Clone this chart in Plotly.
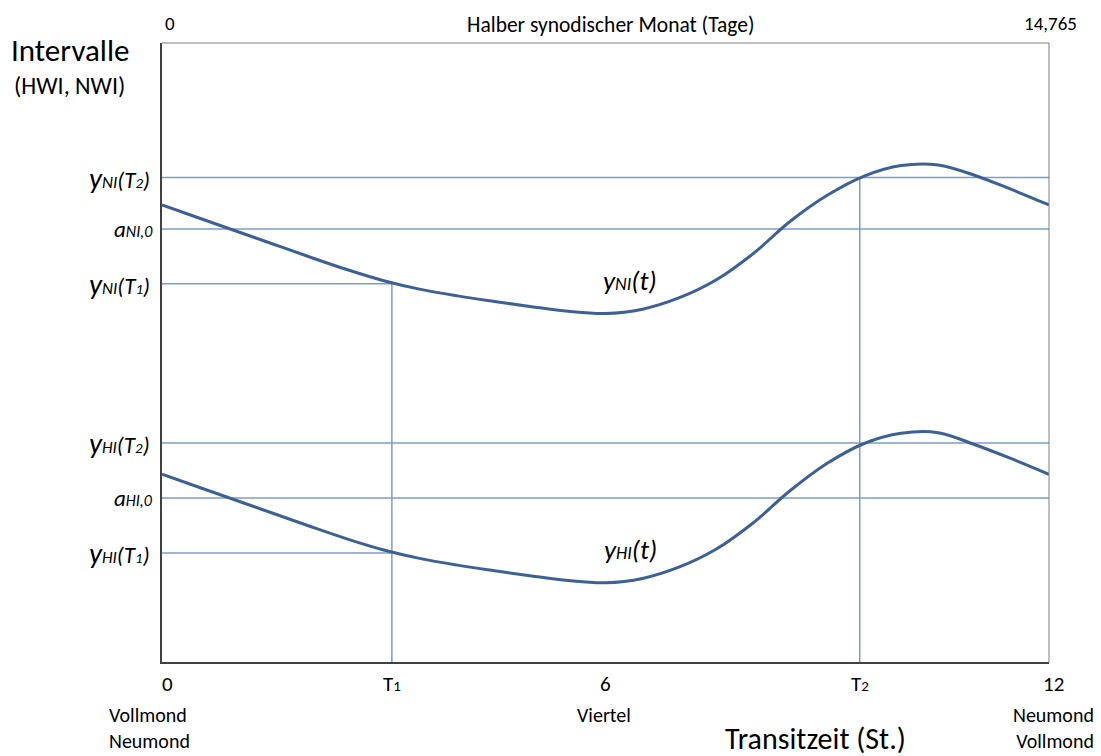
import plotly.graph_objects as go

# ---- data ----
t_hours = [0, 0.5, 1.0, 1.5, 2.0, 2.5, 3.0, 3.5, 4.0, 4.5, 5.0, 5.5, 6.0, 6.5, 7.0, 7.5,
           8.0, 8.5, 9.0, 9.5, 10.0, 10.5, 11.0, 11.5, 12.0]
y_ni = [73.83, 71.73, 69.63, 67.53, 65.43, 63.40, 61.60, 60.20, 59.15, 58.25, 57.40, 56.65,
        56.30, 57.00, 58.85, 61.75, 66.00, 71.20, 75.40, 78.50, 80.20, 80.30, 78.60, 76.30, 73.83]
y_hi = [30.33, 28.23, 26.13, 24.03, 21.93, 19.90, 18.10, 16.70, 15.65, 14.75, 13.90, 13.15,
        12.80, 13.50, 15.35, 18.25, 22.50, 27.70, 32.10, 35.30, 36.95, 37.05, 35.10, 32.80, 30.33]
T1 = 3.11
T2 = 9.44
ni_T1, a_ni0, ni_T2 = 61.1, 69.95, 78.27
hi_T1, a_hi0, hi_T2 = 17.61, 26.49, 35.38
x_tick_vals = [0, T1, 6, T2, 12]
x_tick_text = ["0", "T<span style='font-size:15px'>1</span>", "6",
               "T<span style='font-size:15px'>2</span>", "12"]
phase_vals = [0, 6, 12]
phase_text = ["Vollmond<br>Neumond", "Viertel", "Neumond<br>Vollmond"]

FONT = "Calibri, Carlito, Lato, sans-serif"
CURVE = "#3D6194"
THIN = "#7C9DCB"

W, H = 1101, 756
L, R, T, B = 162, 1049, 43, 662


def px(x):
    return (x - L) / (R - L)


def py(y):
    return (B - y) / (B - T)


fig = go.Figure()
for ys in (y_ni, y_hi):
    fig.add_trace(go.Scatter(x=t_hours, y=ys, mode="lines",
                             line=dict(color=CURVE, width=3, shape="spline", smoothing=1),
                             hoverinfo="skip", showlegend=False))

shapes = []
thin = dict(color=THIN, width=1.5)
for yv, x1 in [(ni_T2, 12), (a_ni0, 12), (ni_T1, T1), (hi_T2, 12), (a_hi0, 12), (hi_T1, T1)]:
    shapes.append(dict(type="line", xref="x", yref="y", x0=0, x1=x1, y0=yv, y1=yv,
                       line=thin, layer="below"))
shapes.append(dict(type="line", xref="x", yref="y", x0=T1, x1=T1, y0=0, y1=ni_T1,
                   line=thin, layer="below"))
shapes.append(dict(type="line", xref="x", yref="y", x0=T2, x1=T2, y0=0, y1=ni_T2,
                   line=thin, layer="below"))
# top and right border (lighter)
shapes.append(dict(type="line", xref="paper", yref="paper", x0=0, x1=1, y0=1, y1=1,
                   line=dict(color="#7F7F7F", width=1)))
shapes.append(dict(type="line", xref="paper", yref="paper", x0=1, x1=1, y0=0, y1=1,
                   line=dict(color="#7F7F7F", width=1)))

ann = []


def text(xp, yp, s, size, xanchor="center", italic=False, yanchor="middle", align="center"):
    ann.append(dict(x=px(xp), xref="paper", y=py(yp), yref="paper",
                    text=("<i>%s</i>" % s) if italic else s, showarrow=False,
                    font=dict(size=size, family=FONT, color="#000"),
                    xanchor=xanchor, yanchor=yanchor, align=align))


tick_px = [167, 392, 605, 860, 1053]
for xp, s in zip(tick_px, x_tick_text):
    text(xp, 684, s, 21)

phase_px = [(107, "left"), (604, "center"), (1096, "right")]
for (xp, anc), s in zip(phase_px, phase_text):
    text(xp, 701, s, 20, anc, yanchor="top", align=anc)

text(815, 738, "Transitzeit (St.)", 30)
# top axis
text(170, 23, "0", 19)
text(610, 25, "Halber synodischer Monat (Tage)", 21.5)
text(1050, 23, "14,765", 19)
# y title
text(9, 50, "Intervalle", 31, "left")
text(12, 86, "(HWI, NWI)", 24, "left")


def ylab(sub, idx):
    return ("<i>y<span style='font-size:17px'>%s</span>"
            "<span style='font-size:23px'>(T</span><span style='font-size:15px'>%s</span>"
            "<span style='font-size:23px'>)</span></i>" % (sub, idx))


def alab(sub):
    return "<i>a<span style='font-size:16px'>%s,0</span></i>" % sub


for yv, s in [(ni_T2, ylab("NI", "2")), (ni_T1, ylab("NI", "1")),
              (hi_T2, ylab("HI", "2")), (hi_T1, ylab("HI", "1"))]:
    ann.append(dict(x=px(152), xref="paper", y=yv, yref="y", text=s, showarrow=False,
                    font=dict(size=29, family=FONT, color="#000"), xanchor="right",
                    yanchor="middle"))
for yv, s in [(a_ni0, alab("NI")), (a_hi0, alab("HI"))]:
    ann.append(dict(x=px(155), xref="paper", y=yv, yref="y", text=s, showarrow=False,
                    font=dict(size=23, family=FONT, color="#000"), xanchor="right",
                    yanchor="middle"))
# curve labels
for ypix, sub in [(280, "NI"), (549, "HI")]:
    text(630, ypix, "y<span style='font-size:18px'>%s</span>(t)" % sub, 27, italic=True)

fig.update_layout(
    width=W, height=H,
    margin=dict(l=L, r=W - R, t=T, b=H - B, pad=0),
    paper_bgcolor="white", plot_bgcolor="white",
    xaxis=dict(range=[0, 12], showgrid=False, zeroline=False, showticklabels=False,
               ticks="", showline=True, linecolor="#404040", linewidth=1.5, fixedrange=True),
    yaxis=dict(range=[0, 100], showgrid=False, zeroline=False, showticklabels=False,
               ticks="", showline=True, linecolor="#404040", linewidth=1.5, fixedrange=True),
    shapes=shapes, annotations=ann, showlegend=False,
)
fig.write_html("out.html", config={"displayModeBar": False},
               post_script="document.body.style.margin='0';")
